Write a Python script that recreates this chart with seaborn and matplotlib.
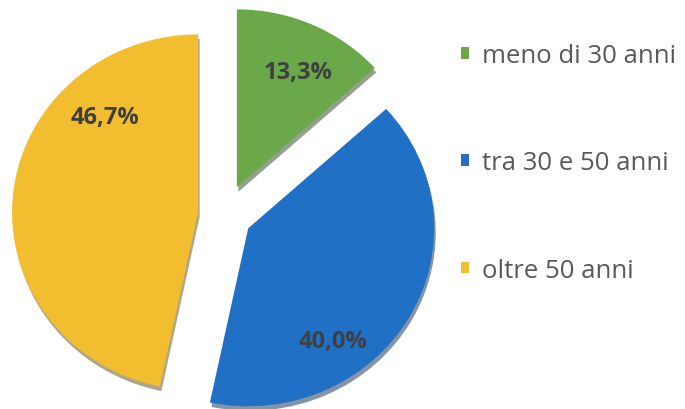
import matplotlib
matplotlib.use("Agg")
import matplotlib.pyplot as plt
import numpy as np
import seaborn as sns
from matplotlib.patches import Patch

# Dati (quota per fascia d'età)
categorie = ["meno di 30 anni", "tra 30 e 50 anni", "oltre 50 anni"]
valori = [13.3, 40.0, 46.7]
etichette = ["13,3%", "40,0%", "46,7%"]

COLORI = ["#6aa84a", "#2070c6", "#f2bd2e"]
ESPLOSO = [0.17, 0.15, 0.14]
# direzione e distanza dell'etichetta in ogni spicchio
ANGOLI_ETICHETTE = [63, -54, 133]
DISTANZE_ETICHETTE = [0.73, 0.78, 0.73]

sns.set_theme(style="white")
plt.rcParams["font.family"] = ["Open Sans", "DejaVu Sans"]

W, H = 685, 410
SCALA_X, SCALA_Y = 186.0, 178.0   # pixel per unità di raggio (torta leggermente ovale)
CX, CY = 224.0, 194.0             # centro della torta in pixel (dal basso)

fig = plt.figure(figsize=(W / 100, H / 100), dpi=100)
ax = fig.add_axes([0, 0, 1, 1])

wedges, _, autotexts = ax.pie(
    valori,
    colors=COLORI,
    explode=ESPLOSO,
    startangle=90,
    counterclock=False,
    radius=1.0,
    autopct="%1.1f%%",
    pctdistance=0.75,
    shadow=dict(ox=0.006, oy=-0.018, shade=0.6),
    wedgeprops=dict(linewidth=0),
)

for w, t, lab, ang, r in zip(wedges, autotexts, etichette, ANGOLI_ETICHETTE, DISTANZE_ETICHETTE):
    c = w.center
    t.set_position((c[0] + r * np.cos(np.radians(ang)), c[1] + r * np.sin(np.radians(ang))))
    t.set_text(lab)
    t.set_fontsize(17)
    t.set_fontweight("bold")
    t.set_color("#404040")

ax.set_xlim(-CX / SCALA_X, (W - CX) / SCALA_X)
ax.set_ylim(-CY / SCALA_Y, (H - CY) / SCALA_Y)
ax.set_aspect("auto")
ax.axis("off")

handles = [Patch(facecolor=c, edgecolor="none", label=l) for c, l in zip(COLORI, categorie)]
fig.legend(
    handles=handles,
    loc="upper left",
    bbox_to_anchor=(438 / W, 1 - 21 / H),
    frameon=False,
    fontsize=18.5,
    labelcolor="#595959",
    handlelength=0.32,
    handleheight=0.32,
    handletextpad=0.5,
    labelspacing=3.2,
)

fig.savefig("out.png", dpi=100)
